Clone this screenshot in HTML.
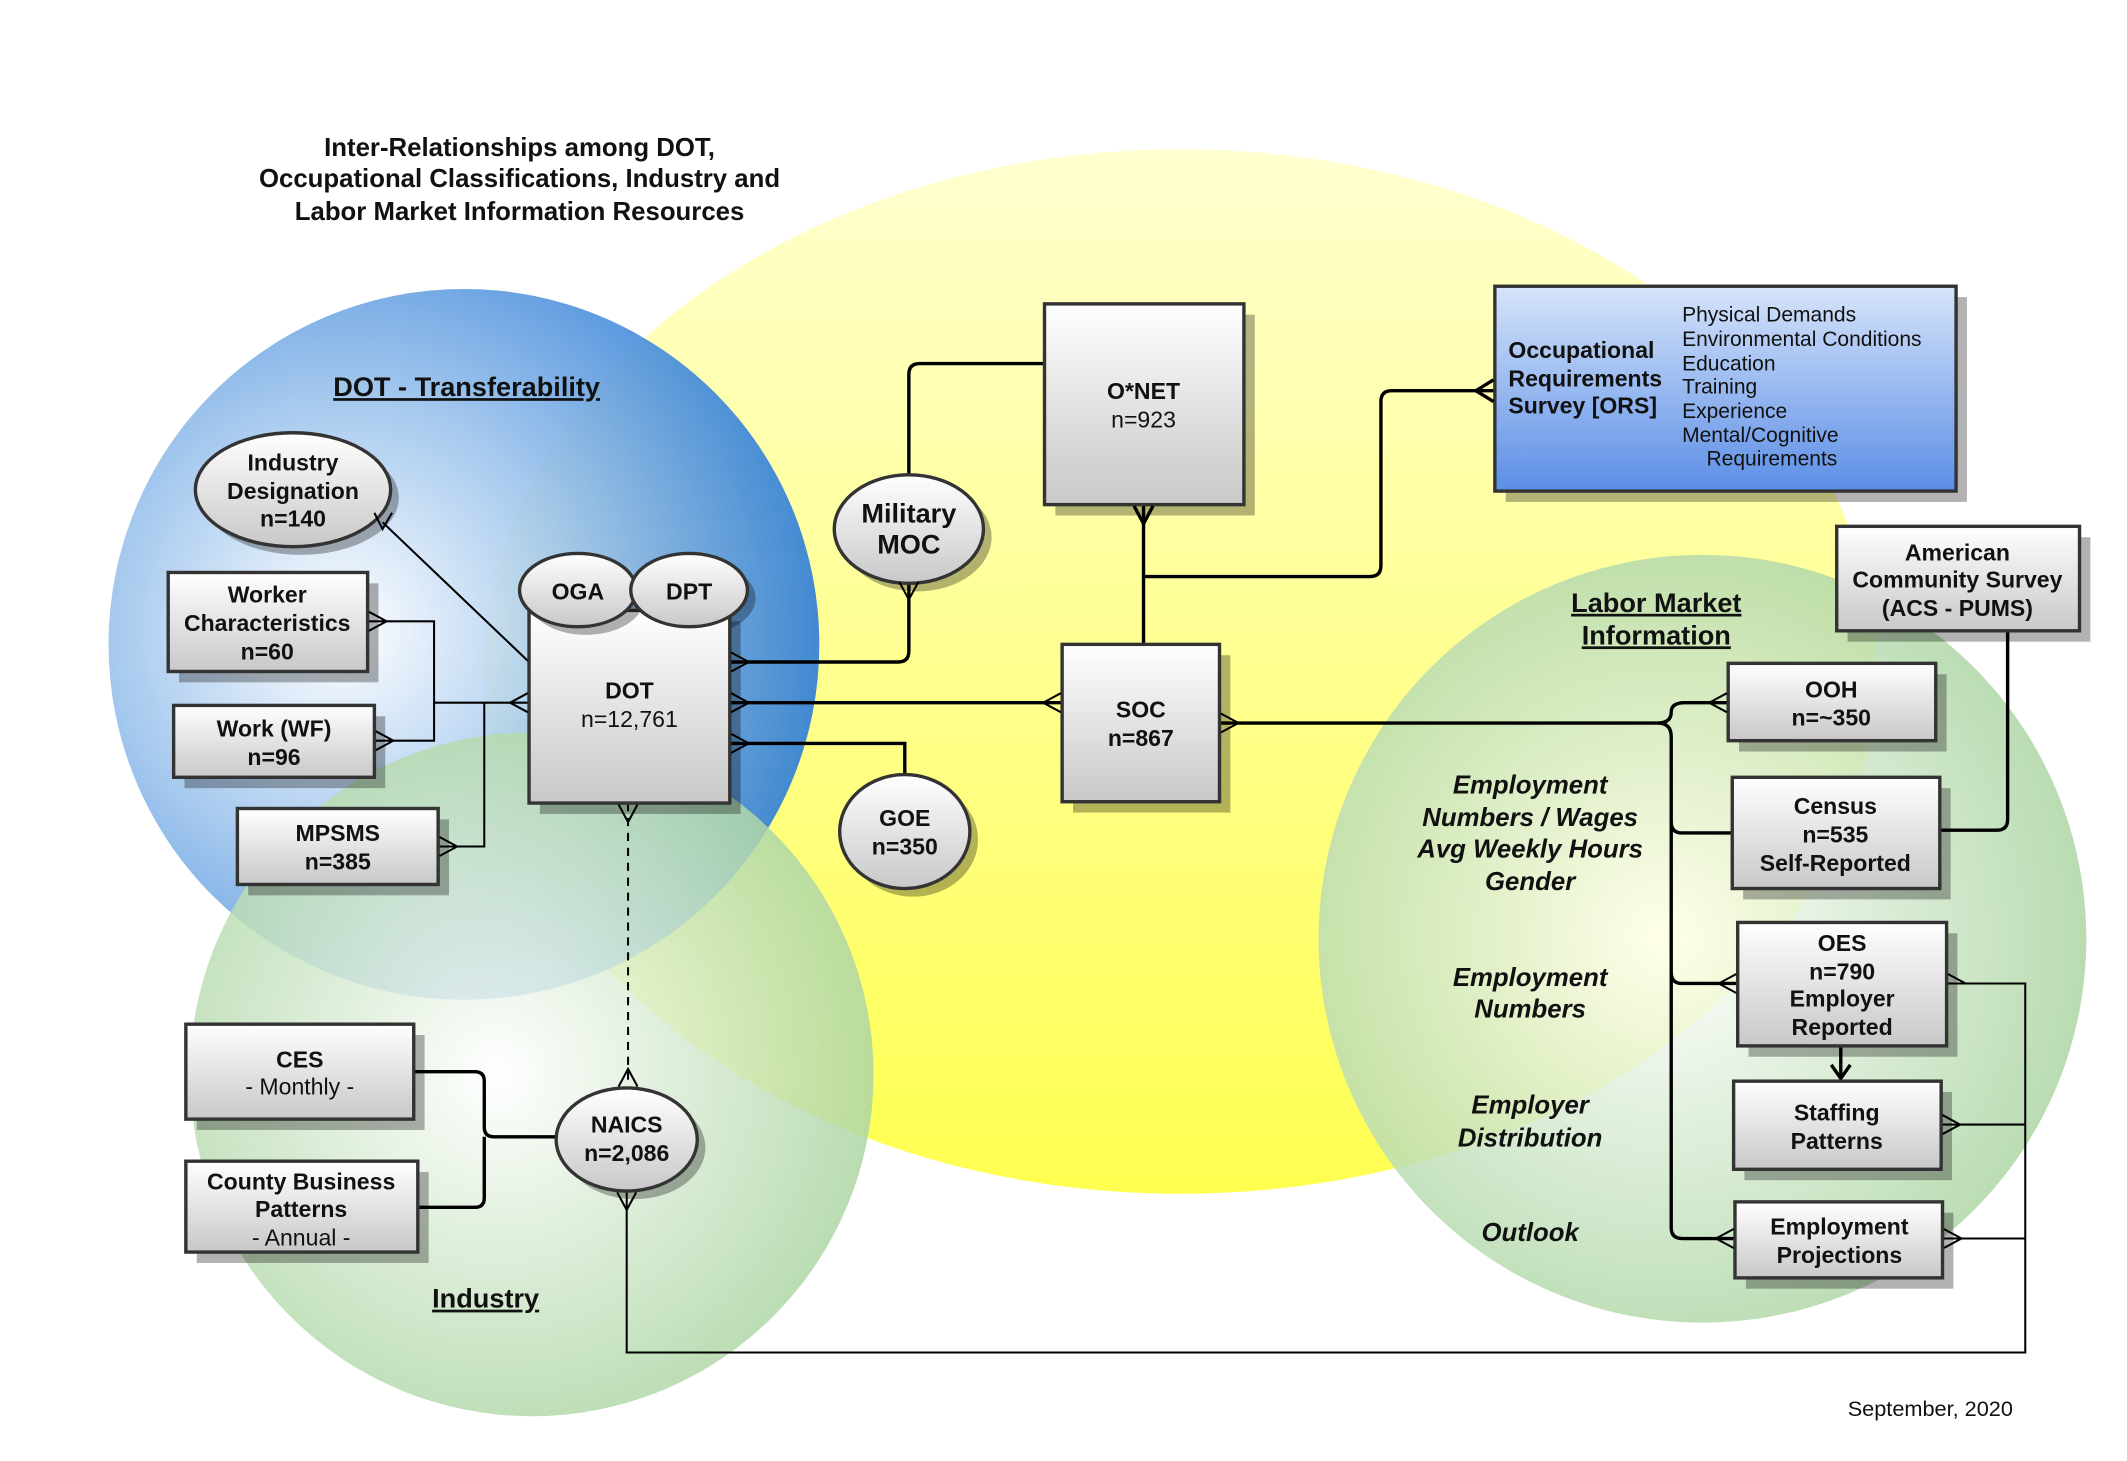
<!DOCTYPE html>
<html><head><meta charset="utf-8"><style>
html,body{margin:0;padding:0;background:#fff;}
svg{display:block;}
text{font-family:"Liberation Sans",sans-serif;}
</style></head><body>
<svg width="2127" height="1461" viewBox="0 0 1568 1077" xmlns="http://www.w3.org/2000/svg">
<defs>
<radialGradient id="gBlue" cx="0.33" cy="0.48" r="0.68">
<stop offset="0" stop-color="#ffffff"/><stop offset="0.45" stop-color="#a4c8ee"/><stop offset="1" stop-color="#2f7dd6"/></radialGradient>
<linearGradient id="gYel" x1="0" y1="0" x2="0" y2="1">
<stop offset="0" stop-color="#ffffd0"/><stop offset="1" stop-color="#ffff50"/></linearGradient>
<radialGradient id="gGreen" cx="0.45" cy="0.5" r="0.6">
<stop offset="0" stop-color="#ffffff"/><stop offset="1" stop-color="#a6d29c"/></radialGradient>
<linearGradient id="gBox" x1="0" y1="0" x2="0" y2="1">
<stop offset="0" stop-color="#ffffff"/><stop offset="1" stop-color="#c8c8c8"/></linearGradient>
<linearGradient id="gORS" x1="0" y1="0" x2="0" y2="1">
<stop offset="0" stop-color="#d6e4fa"/><stop offset="1" stop-color="#5b8ee6"/></linearGradient>
</defs>

<ellipse cx="870" cy="495" rx="513" ry="385" fill="url(#gYel)"/>
<circle cx="342" cy="475" r="262" fill="url(#gBlue)" opacity="0.92"/>
<circle cx="392" cy="792" r="252" fill="url(#gGreen)" opacity="0.85"/>
<circle cx="1255" cy="692" r="283" fill="url(#gGreen)" opacity="0.85"/>

<g font-weight="bold" font-size="19" text-anchor="middle" fill="#111">
<text x="383" y="115">Inter-Relationships among DOT,</text>
<text x="383" y="138">Occupational Classifications, Industry and</text>
<text x="383" y="162">Labor Market Information Resources</text>
</g>
<g font-weight="bold" font-size="20" text-anchor="middle" fill="#111" text-decoration="underline">
<text x="344" y="292">DOT - Transferability</text>
<text x="1221" y="451">Labor Market</text>
<text x="1221" y="475">Information</text>
<text x="358" y="964">Industry</text>
</g>
<g font-weight="bold" font-style="italic" font-size="19" text-anchor="middle" fill="#111">
<text x="1128" y="585">Employment</text>
<text x="1128" y="609">Numbers / Wages</text>
<text x="1128" y="632">Avg Weekly Hours</text>
<text x="1128" y="656">Gender</text>
<text x="1128" y="727">Employment</text>
<text x="1128" y="750">Numbers</text>
<text x="1128" y="821">Employer</text>
<text x="1128" y="845">Distribution</text>
<text x="1128" y="915">Outlook</text>
</g>
<text x="1423" y="1044" font-size="16" text-anchor="middle" fill="#111">September, 2020</text>

<g fill="none" stroke="#000" stroke-width="2.5">
<path d="M770,268 H678 Q670,268 670,276 V350"/>
<path d="M670,428 V480 Q670,488 662,488 H538"/>
<path d="M843,372 V475"/>
<path d="M843,425 H1010 Q1018,425 1018,417 V296 Q1018,288 1026,288 H1102"/>
<path d="M538,518 H783"/>
<path d="M538,548 H667 V571"/>
<path d="M899,533 H1222 Q1232,533 1232,543 V905 Q1232,913 1240,913 H1279"/>
<path d="M1222,533 Q1232,533 1232,525 Q1232,518 1242,518 H1274"/>
<path d="M1232,606 Q1232,614 1240,614 H1277"/>
<path d="M1232,717 Q1232,725 1240,725 H1281"/>
<path d="M1480,465 V604 Q1480,612 1472,612 H1430"/>
<path d="M305,790 H350 Q357,790 357,797 V831 Q357,838 364,838 H410"/>
<path d="M308,890 H350 Q357,890 357,883 V838"/>
<path d="M1357,771 V795"/>
</g>
<path d="M1350,785 L1357,795 L1364,785" fill="none" stroke="#000" stroke-width="2.5"/>
<g fill="none" stroke="#000" stroke-width="1.5">
<path d="M271,458 H320 V546 H276"/>
<path d="M320,518 H390"/>
<path d="M323,624 H357 V518"/>
<path d="M282,385 L390,488"/>
<path d="M462,878 V997 H1493 V725 H1435"/>
<path d="M1493,829 H1431"/>
<path d="M1493,913 H1432"/>
</g>
<path d="M463,592 V802" stroke="#000" stroke-width="1.5" stroke-dasharray="6,5"/>

<g stroke="#333" stroke-width="2.5">
<g fill="#000" fill-opacity="0.3" stroke="none">
<rect x="778" y="232" width="147" height="148"/>
<rect x="1110" y="219" width="340" height="151"/>
<rect x="1362" y="396" width="179" height="77"/>
<rect x="1282" y="497" width="153" height="57"/>
<rect x="1285" y="581" width="153" height="82"/>
<rect x="1289" y="688" width="154" height="91"/>
<rect x="1286" y="805" width="153" height="65"/>
<rect x="1287" y="894" width="153" height="56"/>
<rect x="791" y="483" width="116" height="116"/>
<rect x="398" y="458" width="148" height="142"/>
<rect x="132" y="430" width="147" height="73"/>
<rect x="136" y="528" width="148" height="53"/>
<rect x="183" y="604" width="148" height="56"/>
<rect x="145" y="763" width="168" height="70"/>
<rect x="145" y="864" width="171" height="67"/>
<ellipse cx="222" cy="367" rx="72" ry="42"/>
<ellipse cx="514" cy="441" rx="43" ry="27"/>
<ellipse cx="676" cy="396" rx="55" ry="40"/>
<ellipse cx="673" cy="619" rx="48" ry="42"/>
<ellipse cx="468" cy="846" rx="52" ry="38"/>
</g>
<rect x="770" y="224" width="147" height="148" fill="url(#gBox)"/>
<rect x="1102" y="211" width="340" height="151" fill="url(#gORS)"/>
<rect x="1354" y="388" width="179" height="77" fill="url(#gBox)"/>
<rect x="1274" y="489" width="153" height="57" fill="url(#gBox)"/>
<rect x="1277" y="573" width="153" height="82" fill="url(#gBox)"/>
<rect x="1281" y="680" width="154" height="91" fill="url(#gBox)"/>
<rect x="1278" y="797" width="153" height="65" fill="url(#gBox)"/>
<rect x="1279" y="886" width="153" height="56" fill="url(#gBox)"/>
<rect x="783" y="475" width="116" height="116" fill="url(#gBox)"/>
<rect x="390" y="450" width="148" height="142" fill="url(#gBox)"/>
<rect x="124" y="422" width="147" height="73" fill="url(#gBox)"/>
<rect x="128" y="520" width="148" height="53" fill="url(#gBox)"/>
<rect x="175" y="596" width="148" height="56" fill="url(#gBox)"/>
<rect x="137" y="755" width="168" height="70" fill="url(#gBox)"/>
<rect x="137" y="856" width="171" height="67" fill="url(#gBox)"/>
<ellipse cx="216" cy="361" rx="72" ry="42" fill="url(#gBox)"/>
<ellipse cx="432" cy="441" rx="43" ry="27" fill="#000" fill-opacity="0.3" stroke="none"/>
<ellipse cx="426" cy="435" rx="43" ry="27" fill="url(#gBox)"/>
<ellipse cx="508" cy="435" rx="43" ry="27" fill="url(#gBox)"/>
<ellipse cx="670" cy="390" rx="55" ry="40" fill="url(#gBox)"/>
<ellipse cx="667" cy="613" rx="48" ry="42" fill="url(#gBox)"/>
<ellipse cx="462" cy="840" rx="52" ry="38" fill="url(#gBox)"/>
</g>

<!-- crow's feet on top -->
<g fill="none" stroke="#000" stroke-width="1.5">
<path d="M539,481 L552,488 L539,495"/>
<path d="M539,511 L552,518 L539,525"/>
<path d="M539,541 L552,548 L539,555"/>
<path d="M782,511 L769,518 L782,525"/>
<path d="M900,526 L913,533 L900,540"/>
<path d="M663,429 L670,442 L677,429"/>
<path d="M1273,511 L1260,518 L1273,525"/>
<path d="M1280,718 L1267,725 L1280,732"/>
<path d="M1278,906 L1265,913 L1278,920"/>
<path d="M1436,718 L1449,725"/>
<path d="M1432,822 L1445,829 L1432,836"/>
<path d="M1433,906 L1446,913 L1433,920"/>
<path d="M272,451 L285,458 L272,465"/>
<path d="M277,539 L290,546 L277,553"/>
<path d="M324,617 L337,624 L324,631"/>
<path d="M389,511 L376,518 L389,525"/>
<path d="M276,378 L282,390 L289,378"/>
<path d="M456,593 L463,606 L470,593"/>
<path d="M456,801 L463,788 L470,801"/>
<path d="M455,879 L462,892 L469,879"/>
</g>
<g fill="none" stroke="#000" stroke-width="2.5">
<path d="M836,373 L843,386 L850,373"/>
<path d="M1101,280 L1088,288 L1101,296"/>
</g>

<g font-size="17" text-anchor="middle" fill="#111">
<text x="843" y="294" font-weight="bold">O*NET</text>
<text x="843" y="315">n=923</text>
<text x="1443" y="413" font-weight="bold">American</text>
<text x="1443" y="433" font-weight="bold">Community Survey</text>
<text x="1443" y="454" font-weight="bold">(ACS - PUMS)</text>
<text x="1350" y="514" font-weight="bold">OOH</text>
<text x="1350" y="535" font-weight="bold">n=~350</text>
<text x="1353" y="600" font-weight="bold">Census</text>
<text x="1353" y="621" font-weight="bold">n=535</text>
<text x="1353" y="642" font-weight="bold">Self-Reported</text>
<text x="1358" y="701" font-weight="bold">OES</text>
<text x="1358" y="722" font-weight="bold">n=790</text>
<text x="1358" y="742" font-weight="bold">Employer</text>
<text x="1358" y="763" font-weight="bold">Reported</text>
<text x="1354" y="826" font-weight="bold">Staffing</text>
<text x="1354" y="847" font-weight="bold">Patterns</text>
<text x="1356" y="910" font-weight="bold">Employment</text>
<text x="1356" y="931" font-weight="bold">Projections</text>
<text x="841" y="529" font-weight="bold">SOC</text>
<text x="841" y="550" font-weight="bold">n=867</text>
<text x="464" y="515" font-weight="bold">DOT</text>
<text x="464" y="536">n=12,761</text>
<text x="197" y="444" font-weight="bold">Worker</text>
<text x="197" y="465" font-weight="bold">Characteristics</text>
<text x="197" y="486" font-weight="bold">n=60</text>
<text x="202" y="543" font-weight="bold">Work (WF)</text>
<text x="202" y="564" font-weight="bold">n=96</text>
<text x="249" y="620" font-weight="bold">MPSMS</text>
<text x="249" y="641" font-weight="bold">n=385</text>
<text x="221" y="787" font-weight="bold">CES</text>
<text x="221" y="807">- Monthly -</text>
<text x="222" y="877" font-weight="bold">County Business</text>
<text x="222" y="897" font-weight="bold">Patterns</text>
<text x="222" y="918">- Annual -</text>
<text x="216" y="347" font-weight="bold">Industry</text>
<text x="216" y="368" font-weight="bold">Designation</text>
<text x="216" y="388" font-weight="bold">n=140</text>
<text x="426" y="442" font-weight="bold">OGA</text>
<text x="508" y="442" font-weight="bold">DPT</text>
<text x="670" y="385" font-weight="bold" font-size="20">Military</text>
<text x="670" y="408" font-weight="bold" font-size="20">MOC</text>
<text x="667" y="609" font-weight="bold">GOE</text>
<text x="667" y="630" font-weight="bold">n=350</text>
<text x="462" y="835" font-weight="bold">NAICS</text>
<text x="462" y="856" font-weight="bold">n=2,086</text>
</g>
<g font-size="17" font-weight="bold" fill="#111">
<text x="1112" y="264">Occupational</text>
<text x="1112" y="285">Requirements</text>
<text x="1112" y="305">Survey [ORS]</text>
</g>
<g font-size="15.5" fill="#111">
<text x="1240" y="237">Physical Demands</text>
<text x="1240" y="255">Environmental Conditions</text>
<text x="1240" y="273">Education</text>
<text x="1240" y="290">Training</text>
<text x="1240" y="308">Experience</text>
<text x="1240" y="326">Mental/Cognitive</text>
<text x="1258" y="343">Requirements</text>
</g>
</svg>
</body></html>
